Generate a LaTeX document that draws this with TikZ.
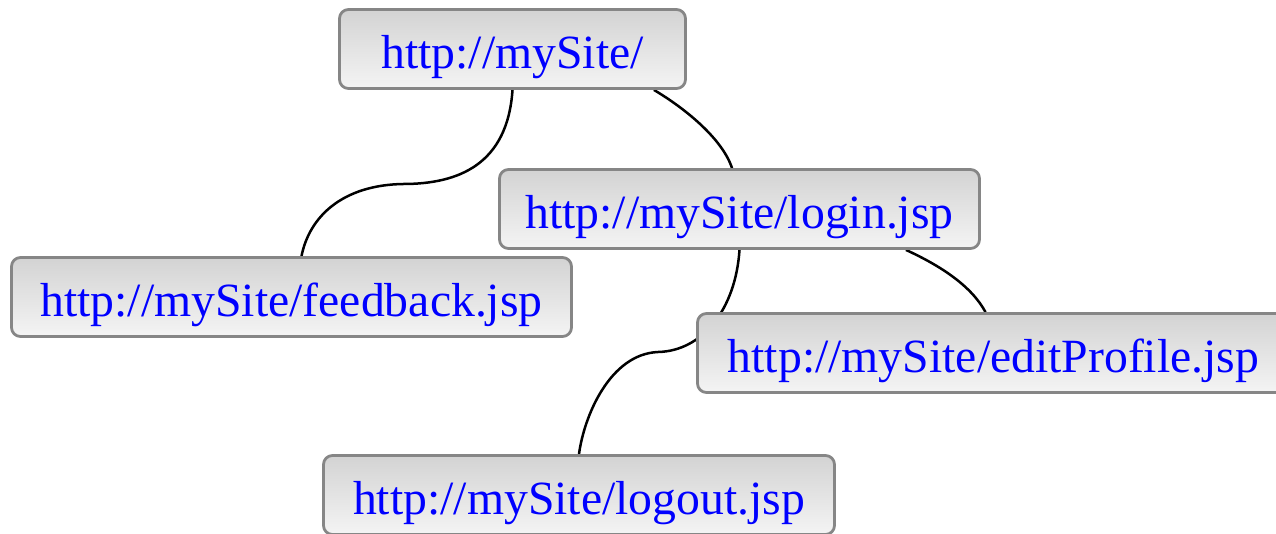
\documentclass[tikz,border=0pt]{standalone}
\usepackage{fontspec}
\setmainfont{Liberation Serif}
\usetikzlibrary{calc,backgrounds}
\definecolor{boxline}{HTML}{868686}
\definecolor{boxtop}{HTML}{D3D3D3}
\definecolor{boxbottom}{HTML}{F4F4F4}
\definecolor{linktext}{HTML}{0000FF}
\tikzset{
  page/.style={
    draw=boxline, line width=2.8pt, rounded corners=9pt,
    top color=boxtop, bottom color=boxbottom,
    minimum height=79pt, inner xsep=0pt, inner ysep=0pt,
    text=linktext, text height=38pt, text depth=0pt,
    font=\fontsize{47.7}{57}\selectfont
  },
  link/.style={draw=black, line width=2.5pt}
}
\begin{document}
\begin{tikzpicture}[x=1pt, y=-1pt]
  \useasboundingbox (0,0) rectangle (1276,533);

  % site map pages
  \node[page, minimum width=346pt] (root)  at (512.5,49)  {http://mySite/};
  \node[page, minimum width=480pt] (login) at (739.5,209) {http://mySite/login.jsp};
  \node[page, minimum width=560pt] (feedback) at (291.5,297) {http://mySite/feedback.jsp};
  \node[page, minimum width=592pt] (edit) at (993.5,353) {http://mySite/editProfile.jsp};
  \node[page, minimum width=511pt] (logout) at (579,495) {http://mySite/logout.jsp};

  % links between pages, drawn underneath the boxes
  \begin{pgfonlayer}{background}
    \coordinate (m1) at (403,184);
    \coordinate (m2) at (658,352);
    \draw[link] (root.south) .. controls ($(root.south)+(-5,75)$) and ($(m1)+(55,0)$) .. (m1)
                .. controls ($(m1)+(-60,1)$) and ($(feedback.north)+(18,-40)$) .. ($(feedback.north)+(10,0)$);
    \draw[link] ($(root.south east)+(-33,0)$) .. controls ($(root.south east)+(-1,19)$) and ($(login.north)+(-17,-29)$) .. ($(login.north)+(-7.5,0)$);
    \draw[link] (login.south) .. controls ($(login.south)+(-4,60)$) and ($(m2)+(44,-1)$) .. (m2)
                .. controls ($(m2)+(-48,2)$) and ($(logout.north)+(5,-38)$) .. (logout.north);
    \draw[link] ($(login.south east)+(-75,0)$) .. controls ($(login.south east)+(-40,16)$) and ($(edit.north)+(-22,-26)$) .. ($(edit.north)+(-8,0)$);
  \end{pgfonlayer}
\end{tikzpicture}
\end{document}
